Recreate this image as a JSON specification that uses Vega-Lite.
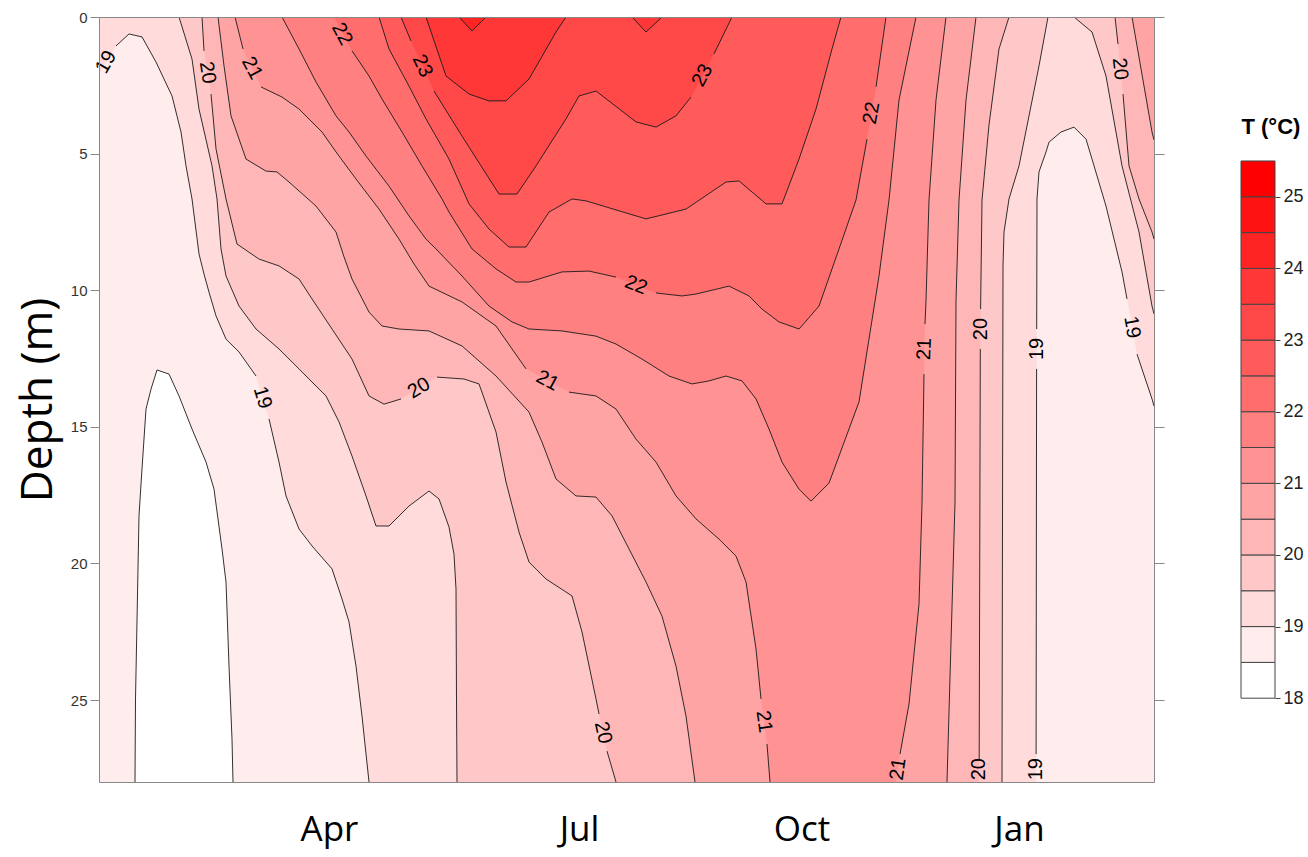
{
"$schema": "https://vega.github.io/schema/vega-lite/v6.json",
"background": "white",
"padding": {"left": 16, "top": 10, "right": 0, "bottom": 6},
"config": {"view": {"stroke": null}},
"spacing": 87,
"bounds": "flush",
"datasets": {
"iso": [
{"level":18.5,"seg":"x","day":0,"depth":28},
{"level":18.5,"seg":"a","day":14.4,"depth":28},
{"level":18.5,"seg":"a","day":14.6,"depth":24.96},
{"level":18.5,"seg":"a","day":16.0,"depth":18.26},
{"level":18.5,"seg":"a","day":17.2,"depth":16.54},
{"level":18.5,"seg":"a","day":18.8,"depth":14.35},
{"level":18.5,"seg":"a","day":20.8,"depth":13.62},
{"level":18.5,"seg":"a","day":23.2,"depth":12.92},
{"level":18.5,"seg":"a","day":28.0,"depth":13.07},
{"level":18.5,"seg":"a","day":32.0,"depth":13.87},
{"level":18.5,"seg":"a","day":37.2,"depth":15.08},
{"level":18.5,"seg":"a","day":42.8,"depth":16.29},
{"level":18.5,"seg":"a","day":46.0,"depth":17.28},
{"level":18.5,"seg":"a","day":49.2,"depth":19.47},
{"level":18.5,"seg":"a","day":50.8,"depth":20.68},
{"level":18.5,"seg":"a","day":52.0,"depth":23.76},
{"level":18.5,"seg":"a","day":53.2,"depth":26.43},
{"level":18.5,"seg":"a","day":53.6,"depth":28},
{"level":18.5,"seg":"x","day":422,"depth":28},

{"level":19,"seg":"x","day":0,"depth":2.09},
{"level":19,"seg":"a","day":6.8,"depth":1.06},
{"level":19,"seg":"a","day":12.0,"depth":0.62},
{"level":19,"seg":"a","day":17.2,"depth":0.73},
{"level":19,"seg":"a","day":22.8,"depth":1.65},
{"level":19,"seg":"a","day":29.2,"depth":2.89},
{"level":19,"seg":"a","day":32.8,"depth":4.21},
{"level":19,"seg":"a","day":34.8,"depth":5.45},
{"level":19,"seg":"a","day":37.2,"depth":6.66},
{"level":19,"seg":"a","day":40.0,"depth":8.67},
{"level":19,"seg":"a","day":42.0,"depth":9.41},
{"level":19,"seg":"a","day":44.0,"depth":10.07},
{"level":19,"seg":"a","day":46.8,"depth":10.94},
{"level":19,"seg":"a","day":50.8,"depth":11.79},
{"level":19,"seg":"a","day":56.0,"depth":12.26},
{"level":19,"seg":"a","day":62.8,"depth":13.14},
{"level":19,"seg":"b","day":68.0,"depth":14.71},
{"level":19,"seg":"b","day":72.0,"depth":16.29},
{"level":19,"seg":"b","day":74.8,"depth":17.53},
{"level":19,"seg":"b","day":80.0,"depth":18.74},
{"level":19,"seg":"b","day":85.2,"depth":19.36},
{"level":19,"seg":"b","day":93.2,"depth":20.20},
{"level":19,"seg":"b","day":97.2,"depth":21.30},
{"level":19,"seg":"b","day":100.0,"depth":22.14},
{"level":19,"seg":"b","day":102.8,"depth":23.76},
{"level":19,"seg":"b","day":105.2,"depth":25.59},
{"level":19,"seg":"b","day":108.0,"depth":28},
{"level":19,"seg":"x","day":374.8,"depth":28},
{"level":19,"seg":"c","day":374.84,"depth":26.98},
{"level":19,"seg":"c","day":374.92,"depth":21.30},
{"level":19,"seg":"c","day":375.04,"depth":12.88},
{"level":19,"seg":"d","day":375.08,"depth":11.42},
{"level":19,"seg":"d","day":375.2,"depth":6.66},
{"level":19,"seg":"d","day":376.0,"depth":5.67},
{"level":19,"seg":"d","day":378.8,"depth":4.94},
{"level":19,"seg":"d","day":380.0,"depth":4.58},
{"level":19,"seg":"d","day":384.8,"depth":4.21},
{"level":19,"seg":"d","day":390.0,"depth":4.03},
{"level":19,"seg":"d","day":394.8,"depth":4.47},
{"level":19,"seg":"d","day":397.2,"depth":5.20},
{"level":19,"seg":"d","day":402.8,"depth":6.92},
{"level":19,"seg":"d","day":409.2,"depth":9.33},
{"level":19,"seg":"d","day":411.2,"depth":10.32},
{"level":19,"seg":"e","day":415.2,"depth":12.34},
{"level":19,"seg":"e","day":421.2,"depth":13.98},
{"level":19,"seg":"e","day":422.0,"depth":14.24},

{"level":19.5,"seg":"x","day":0,"depth":0},
{"level":19.5,"seg":"a","day":32.0,"depth":0},
{"level":19.5,"seg":"a","day":37.2,"depth":1.54},
{"level":19.5,"seg":"a","day":40.0,"depth":3.37},
{"level":19.5,"seg":"a","day":45.2,"depth":5.45},
{"level":19.5,"seg":"a","day":47.2,"depth":6.66},
{"level":19.5,"seg":"a","day":48.8,"depth":8.49},
{"level":19.5,"seg":"a","day":50.8,"depth":9.48},
{"level":19.5,"seg":"a","day":56.0,"depth":10.58},
{"level":19.5,"seg":"a","day":62.8,"depth":11.42},
{"level":19.5,"seg":"a","day":72.0,"depth":12.15},
{"level":19.5,"seg":"a","day":80.0,"depth":12.88},
{"level":19.5,"seg":"a","day":85.2,"depth":13.36},
{"level":19.5,"seg":"a","day":90.8,"depth":13.87},
{"level":19.5,"seg":"a","day":96.0,"depth":14.82},
{"level":19.5,"seg":"a","day":101.2,"depth":16.07},
{"level":19.5,"seg":"a","day":106.8,"depth":17.53},
{"level":19.5,"seg":"a","day":110.8,"depth":18.63},
{"level":19.5,"seg":"a","day":116.0,"depth":18.63},
{"level":19.5,"seg":"a","day":124.0,"depth":17.90},
{"level":19.5,"seg":"a","day":132.0,"depth":17.35},
{"level":19.5,"seg":"a","day":136.0,"depth":17.64},
{"level":19.5,"seg":"a","day":140.0,"depth":18.67},
{"level":19.5,"seg":"a","day":142.0,"depth":19.66},
{"level":19.5,"seg":"a","day":142.8,"depth":20.94},
{"level":19.5,"seg":"a","day":143.0,"depth":24.96},
{"level":19.5,"seg":"a","day":143.2,"depth":28},
{"level":19.5,"seg":"b","day":361.2,"depth":28},
{"level":19.5,"seg":"b","day":361.6,"depth":9.11},
{"level":19.5,"seg":"b","day":362.0,"depth":7.87},
{"level":19.5,"seg":"b","day":364.0,"depth":6.66},
{"level":19.5,"seg":"b","day":368.0,"depth":5.45},
{"level":19.5,"seg":"b","day":372.0,"depth":3.62},
{"level":19.5,"seg":"b","day":376.0,"depth":1.79},
{"level":19.5,"seg":"b","day":379.6,"depth":0},
{"level":19.5,"seg":"c","day":390.0,"depth":0},
{"level":19.5,"seg":"c","day":397.2,"depth":0.55},
{"level":19.5,"seg":"c","day":402.8,"depth":2.16},
{"level":19.5,"seg":"c","day":409.2,"depth":5.45},
{"level":19.5,"seg":"c","day":416.0,"depth":7.87},
{"level":19.5,"seg":"c","day":421.2,"depth":10.58},
{"level":19.5,"seg":"c","day":422.0,"depth":10.87},

{"level":20,"seg":"x","day":0,"depth":0},
{"level":20,"seg":"a","day":41.2,"depth":0},
{"level":20,"seg":"a","day":42.0,"depth":1.24},
{"level":20,"seg":"b","day":44.8,"depth":2.82},
{"level":20,"seg":"b","day":46.8,"depth":4.83},
{"level":20,"seg":"b","day":50.8,"depth":6.66},
{"level":20,"seg":"b","day":55.2,"depth":8.31},
{"level":20,"seg":"b","day":64.0,"depth":8.86},
{"level":20,"seg":"b","day":72.0,"depth":9.11},
{"level":20,"seg":"b","day":80.0,"depth":9.59},
{"level":20,"seg":"b","day":85.2,"depth":10.32},
{"level":20,"seg":"b","day":93.2,"depth":11.42},
{"level":20,"seg":"b","day":101.2,"depth":12.52},
{"level":20,"seg":"b","day":108.0,"depth":13.87},
{"level":20,"seg":"b","day":114.0,"depth":14.17},
{"level":20,"seg":"b","day":120.8,"depth":13.98},
{"level":20,"seg":"c","day":135.2,"depth":13.18},
{"level":20,"seg":"c","day":146.0,"depth":13.25},
{"level":20,"seg":"c","day":152.0,"depth":13.43},
{"level":20,"seg":"c","day":158.8,"depth":15.19},
{"level":20,"seg":"c","day":162.8,"depth":17.02},
{"level":20,"seg":"c","day":168.0,"depth":18.85},
{"level":20,"seg":"c","day":172.0,"depth":19.95},
{"level":20,"seg":"c","day":178.8,"depth":20.57},
{"level":20,"seg":"c","day":189.2,"depth":21.19},
{"level":20,"seg":"c","day":193.2,"depth":22.51},
{"level":20,"seg":"c","day":198.8,"depth":24.96},
{"level":20,"seg":"c","day":200.0,"depth":25.51},
{"level":20,"seg":"d","day":203.2,"depth":26.87},
{"level":20,"seg":"d","day":206.8,"depth":28},
{"level":20,"seg":"x","day":352.0,"depth":28},
{"level":20,"seg":"e","day":352.08,"depth":27.16},
{"level":20,"seg":"e","day":352.52,"depth":12.15},
{"level":20,"seg":"f","day":352.64,"depth":10.69},
{"level":20,"seg":"f","day":353.2,"depth":6.70},
{"level":20,"seg":"f","day":356.0,"depth":3.95},
{"level":20,"seg":"f","day":360.0,"depth":1.17},
{"level":20,"seg":"f","day":364.0,"depth":0},
{"level":20,"seg":"g","day":406.4,"depth":0},
{"level":20,"seg":"g","day":407.6,"depth":0.99},
{"level":20,"seg":"h","day":409.6,"depth":2.82},
{"level":20,"seg":"h","day":412.0,"depth":5.45},
{"level":20,"seg":"h","day":416.0,"depth":6.66},
{"level":20,"seg":"h","day":421.2,"depth":7.87},
{"level":20,"seg":"h","day":422.0,"depth":8.13},

{"level":20.5,"seg":"x","day":0,"depth":0},
{"level":20.5,"seg":"a","day":47.6,"depth":0},
{"level":20.5,"seg":"a","day":50.0,"depth":1.79},
{"level":20.5,"seg":"a","day":52.8,"depth":3.62},
{"level":20.5,"seg":"a","day":58.8,"depth":5.20},
{"level":20.5,"seg":"a","day":66.8,"depth":5.64},
{"level":20.5,"seg":"a","day":71.2,"depth":5.67},
{"level":20.5,"seg":"a","day":76.0,"depth":6.04},
{"level":20.5,"seg":"a","day":86.8,"depth":6.92},
{"level":20.5,"seg":"a","day":94.8,"depth":7.87},
{"level":20.5,"seg":"a","day":98.0,"depth":8.78},
{"level":20.5,"seg":"a","day":101.2,"depth":9.59},
{"level":20.5,"seg":"a","day":108.0,"depth":10.80},
{"level":20.5,"seg":"a","day":113.2,"depth":11.31},
{"level":20.5,"seg":"a","day":120.0,"depth":11.42},
{"level":20.5,"seg":"a","day":132.0,"depth":11.49},
{"level":20.5,"seg":"a","day":145.2,"depth":12.04},
{"level":20.5,"seg":"a","day":158.8,"depth":13.14},
{"level":20.5,"seg":"a","day":172.0,"depth":14.46},
{"level":20.5,"seg":"a","day":177.2,"depth":15.56},
{"level":20.5,"seg":"a","day":182.8,"depth":16.91},
{"level":20.5,"seg":"a","day":190.8,"depth":17.53},
{"level":20.5,"seg":"a","day":198.8,"depth":17.57},
{"level":20.5,"seg":"a","day":205.2,"depth":18.26},
{"level":20.5,"seg":"a","day":212.0,"depth":19.47},
{"level":20.5,"seg":"a","day":218.8,"depth":20.68},
{"level":20.5,"seg":"a","day":225.2,"depth":21.93},
{"level":20.5,"seg":"a","day":230.8,"depth":23.76},
{"level":20.5,"seg":"a","day":234.8,"depth":25.59},
{"level":20.5,"seg":"a","day":238.4,"depth":28},
{"level":20.5,"seg":"b","day":339.2,"depth":28},
{"level":20.5,"seg":"b","day":342.4,"depth":17.79},
{"level":20.5,"seg":"b","day":342.8,"depth":10.40},
{"level":20.5,"seg":"b","day":344.0,"depth":6.70},
{"level":20.5,"seg":"b","day":346.8,"depth":3.04},
{"level":20.5,"seg":"b","day":350.8,"depth":0},
{"level":20.5,"seg":"c","day":413.2,"depth":0},
{"level":20.5,"seg":"c","day":421.2,"depth":4.21},
{"level":20.5,"seg":"c","day":422.0,"depth":4.50},

{"level":21,"seg":"x","day":0,"depth":0},
{"level":21,"seg":"a","day":54.4,"depth":0},
{"level":21,"seg":"a","day":57.6,"depth":1.17},
{"level":21,"seg":"b","day":64.8,"depth":2.56},
{"level":21,"seg":"b","day":73.2,"depth":2.93},
{"level":21,"seg":"b","day":80.0,"depth":3.37},
{"level":21,"seg":"b","day":89.2,"depth":4.21},
{"level":21,"seg":"b","day":94.8,"depth":4.94},
{"level":21,"seg":"b","day":102.8,"depth":5.93},
{"level":21,"seg":"b","day":112.0,"depth":7.03},
{"level":21,"seg":"b","day":120.0,"depth":8.13},
{"level":21,"seg":"b","day":126.0,"depth":9.04},
{"level":21,"seg":"b","day":132.0,"depth":9.85},
{"level":21,"seg":"b","day":145.2,"depth":10.43},
{"level":21,"seg":"b","day":158.8,"depth":11.31},
{"level":21,"seg":"b","day":170.8,"depth":12.88},
{"level":21,"seg":"c","day":188.0,"depth":13.73},
{"level":21,"seg":"c","day":198.8,"depth":13.87},
{"level":21,"seg":"c","day":206.8,"depth":14.35},
{"level":21,"seg":"c","day":214.8,"depth":15.45},
{"level":21,"seg":"c","day":222.8,"depth":16.29},
{"level":21,"seg":"c","day":230.8,"depth":17.53},
{"level":21,"seg":"c","day":238.8,"depth":18.37},
{"level":21,"seg":"c","day":248.0,"depth":19.11},
{"level":21,"seg":"c","day":254.8,"depth":19.73},
{"level":21,"seg":"c","day":258.8,"depth":20.68},
{"level":21,"seg":"c","day":262.8,"depth":23.13},
{"level":21,"seg":"c","day":264.8,"depth":24.96},
{"level":21,"seg":"d","day":267.2,"depth":26.61},
{"level":21,"seg":"d","day":268.4,"depth":28},
{"level":21,"seg":"x","day":318.8,"depth":28},
{"level":21,"seg":"e","day":320.4,"depth":26.98},
{"level":21,"seg":"e","day":324.0,"depth":25.15},
{"level":21,"seg":"e","day":328.0,"depth":21.49},
{"level":21,"seg":"e","day":329.2,"depth":17.79},
{"level":21,"seg":"e","day":330.0,"depth":13.07},
{"level":21,"seg":"f","day":330.4,"depth":11.24},
{"level":21,"seg":"f","day":330.8,"depth":10.40},
{"level":21,"seg":"f","day":332.0,"depth":6.70},
{"level":21,"seg":"f","day":334.8,"depth":3.04},
{"level":21,"seg":"f","day":338.8,"depth":0},
{"level":21,"seg":"x","day":422,"depth":0},

{"level":21.5,"seg":"x","day":0,"depth":0},
{"level":21.5,"seg":"a","day":73.2,"depth":0},
{"level":21.5,"seg":"a","day":80.0,"depth":1.17},
{"level":21.5,"seg":"a","day":86.8,"depth":2.38},
{"level":21.5,"seg":"a","day":94.8,"depth":3.62},
{"level":21.5,"seg":"a","day":100.0,"depth":4.21},
{"level":21.5,"seg":"a","day":106.8,"depth":5.09},
{"level":21.5,"seg":"a","day":116.0,"depth":6.19},
{"level":21.5,"seg":"a","day":124.0,"depth":7.28},
{"level":21.5,"seg":"a","day":130.8,"depth":8.13},
{"level":21.5,"seg":"a","day":134.8,"depth":8.49},
{"level":21.5,"seg":"a","day":145.2,"depth":9.48},
{"level":21.5,"seg":"a","day":156.0,"depth":10.58},
{"level":21.5,"seg":"a","day":165.2,"depth":11.16},
{"level":21.5,"seg":"a","day":172.0,"depth":11.42},
{"level":21.5,"seg":"a","day":185.2,"depth":11.49},
{"level":21.5,"seg":"a","day":198.8,"depth":11.68},
{"level":21.5,"seg":"a","day":206.8,"depth":11.97},
{"level":21.5,"seg":"a","day":217.2,"depth":12.52},
{"level":21.5,"seg":"a","day":228.0,"depth":13.14},
{"level":21.5,"seg":"a","day":237.2,"depth":13.43},
{"level":21.5,"seg":"a","day":244.0,"depth":13.32},
{"level":21.5,"seg":"a","day":250.8,"depth":13.14},
{"level":21.5,"seg":"a","day":257.2,"depth":13.32},
{"level":21.5,"seg":"a","day":262.8,"depth":13.98},
{"level":21.5,"seg":"a","day":268.0,"depth":15.08},
{"level":21.5,"seg":"a","day":273.2,"depth":16.29},
{"level":21.5,"seg":"a","day":280.0,"depth":17.28},
{"level":21.5,"seg":"a","day":284.8,"depth":17.72},
{"level":21.5,"seg":"a","day":292.0,"depth":17.06},
{"level":21.5,"seg":"a","day":304.0,"depth":14.09},
{"level":21.5,"seg":"a","day":312.0,"depth":9.48},
{"level":21.5,"seg":"a","day":316.0,"depth":6.70},
{"level":21.5,"seg":"a","day":320.0,"depth":3.04},
{"level":21.5,"seg":"a","day":326.8,"depth":0},
{"level":21.5,"seg":"x","day":422,"depth":0},

{"level":22,"seg":"x","day":0,"depth":0},
{"level":22,"seg":"x","day":94.0,"depth":0},
{"level":22,"seg":"a","day":101.2,"depth":1.24},
{"level":22,"seg":"a","day":108.0,"depth":2.16},
{"level":22,"seg":"a","day":113.2,"depth":3.00},
{"level":22,"seg":"a","day":121.2,"depth":4.21},
{"level":22,"seg":"a","day":129.2,"depth":5.45},
{"level":22,"seg":"a","day":137.2,"depth":6.66},
{"level":22,"seg":"a","day":140.0,"depth":7.14},
{"level":22,"seg":"a","day":149.2,"depth":8.49},
{"level":22,"seg":"a","day":158.8,"depth":9.22},
{"level":22,"seg":"a","day":166.8,"depth":9.70},
{"level":22,"seg":"a","day":172.0,"depth":9.70},
{"level":22,"seg":"a","day":185.2,"depth":9.33},
{"level":22,"seg":"a","day":196.0,"depth":9.30},
{"level":22,"seg":"a","day":206.8,"depth":9.52},
{"level":22,"seg":"b","day":222.8,"depth":10.10},
{"level":22,"seg":"b","day":233.2,"depth":10.21},
{"level":22,"seg":"b","day":238.8,"depth":10.14},
{"level":22,"seg":"b","day":252.0,"depth":9.85},
{"level":22,"seg":"b","day":260.0,"depth":10.21},
{"level":22,"seg":"b","day":265.2,"depth":10.69},
{"level":22,"seg":"b","day":272.0,"depth":11.16},
{"level":22,"seg":"b","day":280.0,"depth":11.42},
{"level":22,"seg":"b","day":282.8,"depth":11.13},
{"level":22,"seg":"b","day":288.0,"depth":10.58},
{"level":22,"seg":"b","day":296.0,"depth":8.49},
{"level":22,"seg":"b","day":302.8,"depth":6.70},
{"level":22,"seg":"b","day":307.2,"depth":4.47},
{"level":22,"seg":"c","day":310.8,"depth":2.56},
{"level":22,"seg":"c","day":314.8,"depth":0},
{"level":22,"seg":"x","day":422,"depth":0},

{"level":22.5,"seg":"x","day":0,"depth":0},
{"level":22.5,"seg":"a","day":112.0,"depth":0},
{"level":22.5,"seg":"a","day":116.0,"depth":1.17},
{"level":22.5,"seg":"a","day":124.0,"depth":2.53},
{"level":22.5,"seg":"a","day":130.8,"depth":3.73},
{"level":22.5,"seg":"a","day":140.0,"depth":5.20},
{"level":22.5,"seg":"a","day":148.0,"depth":6.84},
{"level":22.5,"seg":"a","day":156.0,"depth":7.76},
{"level":22.5,"seg":"a","day":164.0,"depth":8.42},
{"level":22.5,"seg":"a","day":170.8,"depth":8.42},
{"level":22.5,"seg":"a","day":180.0,"depth":7.14},
{"level":22.5,"seg":"a","day":189.2,"depth":6.66},
{"level":22.5,"seg":"a","day":194.8,"depth":6.73},
{"level":22.5,"seg":"a","day":218.8,"depth":7.39},
{"level":22.5,"seg":"a","day":234.8,"depth":7.03},
{"level":22.5,"seg":"a","day":250.8,"depth":6.04},
{"level":22.5,"seg":"a","day":256.0,"depth":6.00},
{"level":22.5,"seg":"a","day":266.8,"depth":6.84},
{"level":22.5,"seg":"a","day":273.2,"depth":6.84},
{"level":22.5,"seg":"a","day":280.0,"depth":5.20},
{"level":22.5,"seg":"a","day":286.8,"depth":3.37},
{"level":22.5,"seg":"a","day":293.2,"depth":1.17},
{"level":22.5,"seg":"a","day":296.8,"depth":0},
{"level":22.5,"seg":"x","day":422,"depth":0},

{"level":23,"seg":"x","day":0,"depth":0},
{"level":23,"seg":"a","day":120.8,"depth":0},
{"level":23,"seg":"a","day":124.8,"depth":0.88},
{"level":23,"seg":"b","day":134.0,"depth":2.71},
{"level":23,"seg":"b","day":145.2,"depth":4.36},
{"level":23,"seg":"b","day":160.0,"depth":6.48},
{"level":23,"seg":"b","day":167.2,"depth":6.48},
{"level":23,"seg":"b","day":174.8,"depth":5.45},
{"level":23,"seg":"b","day":186.8,"depth":3.73},
{"level":23,"seg":"b","day":192.0,"depth":2.89},
{"level":23,"seg":"b","day":198.8,"depth":2.71},
{"level":23,"seg":"b","day":214.8,"depth":3.84},
{"level":23,"seg":"b","day":222.8,"depth":4.03},
{"level":23,"seg":"b","day":230.8,"depth":3.62},
{"level":23,"seg":"b","day":236.8,"depth":2.93},
{"level":23,"seg":"c","day":246.0,"depth":1.35},
{"level":23,"seg":"c","day":253.2,"depth":0},
{"level":23,"seg":"x","day":422,"depth":0},

{"level":23.5,"seg":"x","day":0,"depth":0},
{"level":23.5,"seg":"a","day":130.8,"depth":0},
{"level":23.5,"seg":"a","day":138.8,"depth":2.16},
{"level":23.5,"seg":"a","day":148.0,"depth":2.82},
{"level":23.5,"seg":"a","day":156.0,"depth":3.07},
{"level":23.5,"seg":"a","day":162.8,"depth":3.07},
{"level":23.5,"seg":"a","day":172.0,"depth":2.27},
{"level":23.5,"seg":"a","day":182.8,"depth":0.55},
{"level":23.5,"seg":"a","day":186.8,"depth":0},
{"level":23.5,"seg":"b","day":213.2,"depth":0},
{"level":23.5,"seg":"b","day":218.8,"depth":0.55},
{"level":23.5,"seg":"b","day":225.2,"depth":0},
{"level":23.5,"seg":"x","day":422,"depth":0},

{"level":24,"seg":"x","day":0,"depth":0},
{"level":24,"seg":"a","day":144.0,"depth":0},
{"level":24,"seg":"a","day":149.2,"depth":0.51},
{"level":24,"seg":"a","day":154.8,"depth":0},
{"level":24,"seg":"x","day":422,"depth":0}
],
"labels": [
{"label":"19","day":2.8,"depth":1.65,"angle":-60},
{"label":"20","day":43.4,"depth":2.03,"angle":81},
{"label":"21","day":61.2,"depth":1.87,"angle":62},
{"label":"22","day":97.2,"depth":0.62,"angle":62},
{"label":"23","day":129.4,"depth":1.79,"angle":65},
{"label":"23","day":241.4,"depth":2.14,"angle":-62},
{"label":"22","day":309.0,"depth":3.51,"angle":-80},
{"label":"22","day":214.8,"depth":9.81,"angle":22},
{"label":"21","day":179.4,"depth":13.31,"angle":28},
{"label":"20","day":128.0,"depth":13.58,"angle":-31},
{"label":"19","day":65.4,"depth":13.93,"angle":73},
{"label":"20","day":201.6,"depth":26.19,"angle":78},
{"label":"21","day":266.0,"depth":25.79,"angle":82},
{"label":"21","day":330.2,"depth":12.15,"angle":-88},
{"label":"20","day":352.6,"depth":11.42,"angle":-90},
{"label":"19","day":375.06,"depth":12.15,"angle":-90},
{"label":"21","day":319.6,"depth":27.53,"angle":-82},
{"label":"20","day":352.0,"depth":27.53,"angle":-90},
{"label":"19","day":374.8,"depth":27.53,"angle":-90},
{"label":"20","day":408.4,"depth":1.90,"angle":84},
{"label":"19","day":413.2,"depth":11.35,"angle":80}
],
"bar": [
{"lo":18,"hi":18.5},{"lo":18.5,"hi":19},{"lo":19,"hi":19.5},{"lo":19.5,"hi":20},{"lo":20,"hi":20.5},
{"lo":20.5,"hi":21},{"lo":21,"hi":21.5},{"lo":21.5,"hi":22},{"lo":22,"hi":22.5},{"lo":22.5,"hi":23},
{"lo":23,"hi":23.5},{"lo":23.5,"hi":24},{"lo":24,"hi":24.5},{"lo":24.5,"hi":25},{"lo":25,"hi":25.5}
],
"ttl": [{"t":"T (°C)"}]
},
"hconcat": [
{
"width": 1055,
"height": 765,
"data": {"name": "iso"},
"encoding": {
"x": {"field":"day","type":"quantitative","scale":{"domain":[0,422],"nice":false,"zero":false},"axis":null},
"y": {"field":"depth","type":"quantitative","scale":{"domain":[0,28],"nice":false,"zero":false,"reverse":true},"axis":null}
},
"layer": [
{"transform":[{"filter":"datum.level == 18.5"}],"mark":{"type":"area","color":"#FFEDED"},"encoding":{"y2":{"datum":0}}},
{"transform":[{"filter":"datum.level == 19"}],"mark":{"type":"area","color":"#FFDBDB"},"encoding":{"y2":{"datum":0}}},
{"transform":[{"filter":"datum.level == 19.5"}],"mark":{"type":"area","color":"#FFC8C8"},"encoding":{"y2":{"datum":0}}},
{"transform":[{"filter":"datum.level == 20"}],"mark":{"type":"area","color":"#FFB6B6"},"encoding":{"y2":{"datum":0}}},
{"transform":[{"filter":"datum.level == 20.5"}],"mark":{"type":"area","color":"#FFA4A4"},"encoding":{"y2":{"datum":0}}},
{"transform":[{"filter":"datum.level == 21"}],"mark":{"type":"area","color":"#FF9292"},"encoding":{"y2":{"datum":0}}},
{"transform":[{"filter":"datum.level == 21.5"}],"mark":{"type":"area","color":"#FF8080"},"encoding":{"y2":{"datum":0}}},
{"transform":[{"filter":"datum.level == 22"}],"mark":{"type":"area","color":"#FF6D6D"},"encoding":{"y2":{"datum":0}}},
{"transform":[{"filter":"datum.level == 22.5"}],"mark":{"type":"area","color":"#FF5B5B"},"encoding":{"y2":{"datum":0}}},
{"transform":[{"filter":"datum.level == 23"}],"mark":{"type":"area","color":"#FF4949"},"encoding":{"y2":{"datum":0}}},
{"transform":[{"filter":"datum.level == 23.5"}],"mark":{"type":"area","color":"#FF3737"},"encoding":{"y2":{"datum":0}}},
{"transform":[{"filter":"datum.level == 24"}],"mark":{"type":"area","color":"#FF2424"},"encoding":{"y2":{"datum":0}}},
{"transform":[{"filter":"datum.seg != 'x'"}],
 "mark":{"type":"line","color":"#1a1a1a","strokeWidth":0.9},
 "encoding":{
  "detail":[{"field":"level"},{"field":"seg"}],
  "x":{"field":"day","type":"quantitative","scale":{"domain":[0,422],"nice":false,"zero":false},
       "axis":{"orient":"top","labels":false,"ticks":false,"domainColor":"#888888","title":null,"grid":false,"zindex":1}},
  "y":{"field":"depth","type":"quantitative","scale":{"domain":[0,28],"nice":false,"zero":false,"reverse":true},
       "axis":{"orient":"right","labels":false,"values":[0,5,10,15,20,25],"tickSize":10,"tickColor":"#888888","domainColor":"#888888","title":null,"grid":false,"zindex":1}}
 }},
{"data":{"name":"labels"},
 "mark":{"type":"text","font":"Liberation Sans","fontSize":20,"color":"#000000","align":"center","baseline":"middle"},
 "encoding":{
  "text":{"field":"label","type":"nominal"},
  "angle":{"field":"angle","type":"quantitative","scale":null},
  "x":{"field":"day","type":"quantitative","scale":{"domain":[0,422],"nice":false,"zero":false},
       "axis":{"orient":"bottom","values":[92,192,281,368],"labelExpr":"datum.value < 100 ? 'Apr' : datum.value < 200 ? 'Jul' : datum.value < 300 ? 'Oct' : 'Jan'","ticks":false,"domainColor":"#888888","labelFont":"Open Sans","labelFontSize":35,"labelColor":"#000000","labelPadding":30,"labelFlush":false,"labelOverlap":false,"title":null,"grid":false,"zindex":1}},
  "y":{"field":"depth","type":"quantitative","scale":{"domain":[0,28],"nice":false,"zero":false,"reverse":true},
       "axis":{"orient":"left","values":[0,5,10,15,20,25],"labelFont":"Liberation Sans","labelFontSize":15,"labelColor":"#333333","labelPadding":3,"tickSize":9,"tickColor":"#888888","domainColor":"#888888","title":"Depth (m)","titleFont":"Open Sans","titleFontSize":44,"titleFontWeight":"normal","titleColor":"#000000","titlePadding":10,"grid":false,"zindex":1}}
 }}
],
"resolve": {"axis": {"x":"independent","y":"independent"}}
},
{
"width": 34,
"height": 765,
"layer": [
{"data":{"name":"bar"},
 "mark":{"type":"rect","stroke":"#444444","strokeWidth":1},
 "encoding":{
  "x":{"datum":0,"type":"quantitative","scale":{"domain":[0,1]},"axis":null},
  "x2":{"datum":1},
  "y":{"field":"hi","type":"quantitative","scale":{"domain":[16.83,27.51],"nice":false,"zero":false},
       "axis":{"orient":"right","values":[18,19,20,21,22,23,24,25],"format":"d","labelFont":"Liberation Sans","labelFontSize":18,"labelColor":"#222222","labelPadding":3,"tickSize":5,"tickColor":"#444444","domain":false,"title":null,"grid":false}},
  "y2":{"field":"lo"},
  "color":{"field":"lo","type":"ordinal","legend":null,
   "scale":{"domain":[18,18.5,19,19.5,20,20.5,21,21.5,22,22.5,23,23.5,24,24.5,25],
            "range":["#FFFFFF","#FFEDED","#FFDBDB","#FFC8C8","#FFB6B6","#FFA4A4","#FF9292","#FF8080","#FF6D6D","#FF5B5B","#FF4949","#FF3737","#FF2424","#FF1212","#FF0000"]}}
 }},
{"data":{"name":"ttl"},
 "mark":{"type":"text","font":"Liberation Sans","fontSize":22,"fontWeight":"bold","color":"#000000","align":"center","baseline":"middle"},
 "encoding":{
  "x":{"datum":0.88,"type":"quantitative"},
  "y":{"datum":25.97,"type":"quantitative"},
  "text":{"field":"t","type":"nominal"}
 }}
]
}
]
}
